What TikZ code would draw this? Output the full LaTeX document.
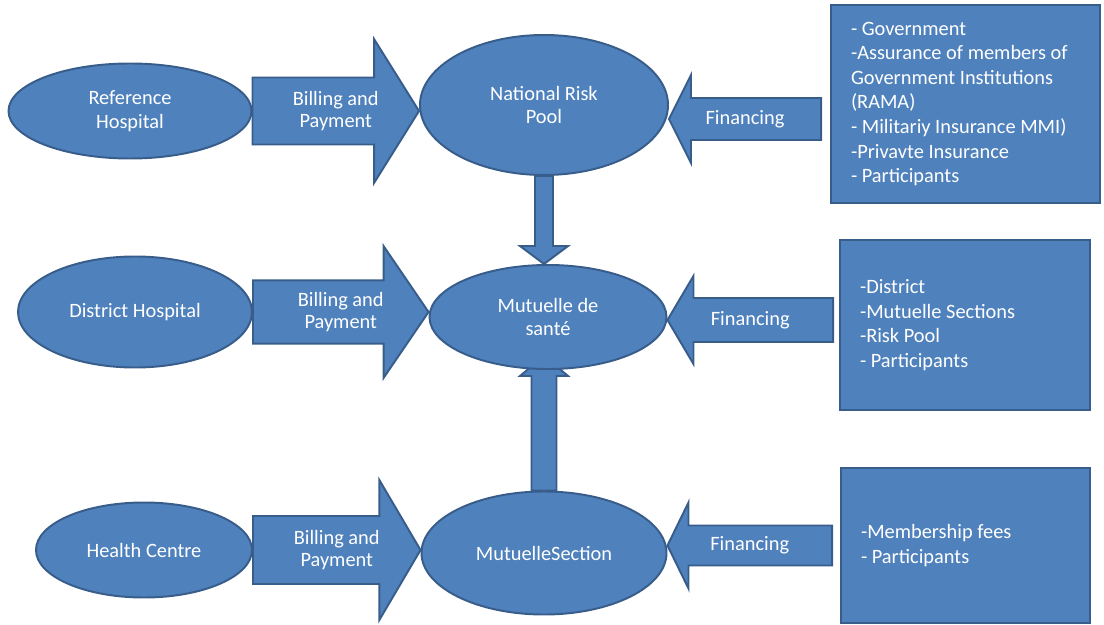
\documentclass[tikz,border=0pt]{standalone}
\usepackage{fontspec}
\setmainfont{Carlito}
\usetikzlibrary{shapes.geometric,calc}
\pgfdeclarelayer{background}
\pgfsetlayers{background,main}
\definecolor{myblue}{RGB}{79,129,189}
\definecolor{myedge}{RGB}{56,93,138}
% block arrow: name, tail, tip, shaft half width, head half width, head length, text
\newcommand{\blockarr}[7]{%
  \coordinate (#1-a) at (#2);
  \coordinate (#1-b) at (#3);
  \coordinate (#1-h) at ($(#1-b)!#6!(#1-a)$);
  \begin{pgfonlayer}{background}
  \draw[myarrow] ($(#1-a)!#4!90:(#1-b)$) -- ($(#1-h)!#4!90:(#1-b)$) -- ($(#1-h)!#5!90:(#1-b)$) -- (#1-b)
    -- ($(#1-h)!#5!-90:(#1-b)$) -- ($(#1-h)!#4!-90:(#1-b)$) -- ($(#1-a)!#4!-90:(#1-b)$) -- cycle;
  \end{pgfonlayer}
  \node[mytext] (#1) at ($(#1-a)!0.5!(#1-b)$) {#7};}
\begin{document}
\begin{tikzpicture}
\tikzset{myellipse/.style={ellipse, draw=myedge, fill=myblue, line width=1.4pt,
    text=white, align=center, inner sep=0pt, font=\fontsize{14.5}{17}\selectfont}}
\tikzstyle{mybox} = [rectangle, draw=myedge, fill=myblue, line width=1.4pt, text=white,
    align=flush left, inner xsep=0.5cm, inner ysep=0pt, font=\fontsize{14.5}{17.5}\selectfont]
\tikzstyle{myarrow} = [draw=myedge, fill=myblue, line width=1.4pt, line join=miter]
\tikzstyle{mytext} = [text=white, align=center, inner sep=0pt, font=\fontsize{14.5}{16}\selectfont]
\useasboundingbox (0,0) rectangle (27.6,-15.625);
	\node[myellipse, minimum width=6.075cm, minimum height=2.375cm] (refh) at (3.25,-2.775) {Reference\\Hospital};
	\node[myellipse, minimum width=6.2cm, minimum height=3.5cm] (nrp) at (13.6,-2.625) {National Risk\\Pool};
	\node[myellipse, minimum width=5.85cm, minimum height=2.775cm] (disth) at (3.375,-7.8) {District Hospital};
	\node[myellipse, minimum width=5.925cm, minimum height=2.6cm] (mut) at (13.7,-7.925) {Mutuelle de\\santé};
	\node[myellipse, minimum width=5.4cm, minimum height=2.375cm] (hc) at (3.6,-13.75) {Health Centre};
	\node[myellipse, minimum width=6.125cm, minimum height=3.075cm] (sec) at (13.6,-13.825) {MutuelleSection};
	\node[mybox, text width=5.725cm, minimum height=4.95cm] (box1) at (24.1375,-2.6)
		{- Government\\-Assurance of members of\\Government Institutions\\(RAMA)\\- Militariy Insurance MMI)\\-Privavte Insurance\\- Participants};
	\node[mybox, text width=5.25cm, minimum height=4.25cm] (box2) at (24.125,-8.125)
		{-District\\-Mutuelle Sections\\-Risk Pool\\- Participants};
	\node[mybox, text width=5.225cm, minimum height=3.875cm] (box3) at (24.1375,-13.6375)
		{-Membership fees\\- Participants};
	\blockarr{bill1}{refh.east}{refh.east -| nrp.west}{0.8375cm}{1.8cm}{1.125cm}{Billing and\\Payment}
	\blockarr{bill2}{disth.east}{disth.east -| mut.west}{0.79cm}{1.65cm}{1.125cm}{Billing and\\Payment}
	\blockarr{bill3}{hc.east}{hc.east -| sec.west}{0.85cm}{1.75cm}{1.03cm}{Billing and\\Payment}
	\coordinate (fin1) at ($(box1.west)+(-0.225,-0.375)$);
	\blockarr{fina}{fin1}{fin1 -| nrp.east}{0.525cm}{1.1cm}{0.55cm}{Financing}
	\coordinate (fin2) at ($(box2.west)+(-0.15,0.125)$);
	\blockarr{finb}{fin2}{fin2 -| mut.east}{0.55cm}{1.1cm}{0.65cm}{Financing}
	\coordinate (fin3) at ($(box3.west)+(-0.2,0)$);
	\blockarr{finc}{fin3}{fin3 -| sec.east}{0.5cm}{1.075cm}{0.525cm}{Financing}
	\blockarr{down}{nrp.south}{nrp.south |- mut.north}{0.225cm}{0.6cm}{0.45cm}{}
	\coordinate (uptip) at ($(sec.north |- mut.south)+(0,0.35)$);
	\blockarr{up}{sec.north}{uptip}{0.3125cm}{0.6cm}{0.5cm}{}
\end{tikzpicture}
\end{document}
